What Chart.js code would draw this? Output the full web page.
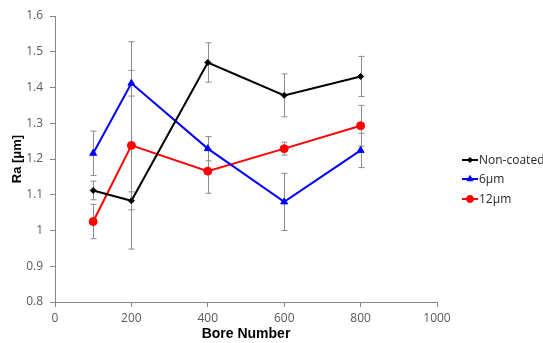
<html>
<head>
    <script src="https://cdn.jsdelivr.net/npm/chart.js@4/dist/chart.umd.min.js"></script>
    <style>
        body { margin: 0; background: #fff; }
        #wrap { width: 543px; height: 343px; }
    </style>
</head>
<body>
    <div id="wrap"><canvas id="myChart" width="543" height="343"></canvas></div>

    <script>
        // bore numbers on the x axis
        const boreNumber = [100, 200, 400, 600, 800];

        // Ra values, with +/- error
        const nonCoated = [1.112, 1.083, 1.470, 1.378, 1.431];
        const nonCoatedErr = [0.026, 0.025, 0.055, 0.060, 0.056];
        const um6 = [1.216, 1.412, 1.229, 1.080, 1.224];
        const um6Err = [0.062, 0.036, 0.034, 0.080, 0.048];
        const um12 = [1.025, 1.238, 1.166, 1.229, 1.293];
        const um12Err = [0.048, 0.290, 0.062, 0.018, 0.057];

        const seriesNames = ['Non-coated', '6\u00b5m', '12\u00b5m'];

        function pts(ys) {
            return boreNumber.map((x, i) => ({ x: x, y: ys[i] }));
        }

        const axisColor = '#868686';
        const tickColor = '#595959';

        // draws the grey error bars from the scales
        const errorBars = {
            id: 'errorBars',
            beforeDatasetsDraw(chart) {
                const ctx = chart.ctx;
                const xs = chart.scales.x, ys = chart.scales.y;
                ctx.save();
                ctx.strokeStyle = '#8c8c8c';
                ctx.lineWidth = 1;
                chart.data.datasets.forEach(ds => {
                    ds.data.forEach((p, i) => {
                        const e = ds.errors[i];
                        const px = Math.round(xs.getPixelForValue(p.x)) + 0.5;
                        const top = ys.getPixelForValue(p.y + e);
                        const bot = ys.getPixelForValue(p.y - e);
                        ctx.beginPath();
                        ctx.moveTo(px, top); ctx.lineTo(px, bot);
                        ctx.moveTo(px - 3, top); ctx.lineTo(px + 3, top);
                        ctx.moveTo(px - 3, bot); ctx.lineTo(px + 3, bot);
                        ctx.stroke();
                    });
                });
                ctx.restore();
            }
        };

        // legend on the right, line with marker like the original
        const sideLegend = {
            id: 'sideLegend',
            afterDraw(chart) {
                const ctx = chart.ctx;
                const rows = [160, 179, 199];
                ctx.save();
                chart.data.datasets.forEach((ds, i) => {
                    const y = rows[i];
                    ctx.strokeStyle = ds.borderColor;
                    ctx.fillStyle = ds.borderColor;
                    ctx.lineWidth = 2;
                    ctx.beginPath();
                    ctx.moveTo(462, y); ctx.lineTo(478, y);
                    ctx.stroke();
                    ctx.lineWidth = 1;
                    Chart.helpers.drawPoint(ctx, {
                        pointStyle: ds.pointStyle,
                        radius: ds.pointRadius - 0.5,
                        borderWidth: 1
                    }, 470, y);
                    ctx.fillStyle = '#262626';
                    ctx.font = '12px "Open Sans"';
                    ctx.textBaseline = 'middle';
                    ctx.textAlign = 'left';
                    ctx.fillText(seriesNames[i], 479, y + 1);
                });
                ctx.restore();
            }
        };

        function makeSet(i, ys, errs, color, style, r) {
            return {
                label: seriesNames[i],
                data: pts(ys),
                errors: errs,
                borderColor: color,
                backgroundColor: color,
                borderWidth: 2,
                pointStyle: style,
                pointRadius: r,
                pointBorderWidth: 1,
                pointBackgroundColor: color,
                pointBorderColor: color,
                tension: 0
            };
        }

        const data = {
            datasets: [
                makeSet(0, nonCoated, nonCoatedErr, '#000000', 'rectRot', 3),
                makeSet(1, um6, um6Err, '#0000ff', 'triangle', 4),
                makeSet(2, um12, um12Err, '#ff0000', 'circle', 4)
            ]
        };

        const config = {
            type: 'line',
            data: data,
            plugins: [errorBars, sideLegend],
            options: {
                responsive: false,
                animation: false,
                events: [],
                layout: { padding: { left: 0, right: 106, top: 16, bottom: 0 } },
                plugins: {
                    legend: { display: false },
                    tooltip: { enabled: false }
                },
                scales: {
                    x: {
                        type: 'linear',
                        min: 0,
                        max: 1000,
                        afterFit: s => { s.height = 41; },
                        border: { color: axisColor, width: 1 },
                        grid: { drawOnChartArea: false, color: axisColor, tickLength: 5 },
                        ticks: {
                            stepSize: 200,
                            padding: 4,
                            color: tickColor,
                            font: { family: 'Open Sans', size: 12 },
                            maxRotation: 0,
                            callback: v => String(v)
                        },
                        title: {
                            display: true,
                            text: 'Bore Number',
                            color: '#000',
                            padding: { top: 0, bottom: 0 },
                            font: { family: 'Liberation Sans', size: 14, weight: 'bold' }
                        }
                    },
                    y: {
                        min: 0.8,
                        max: 1.6,
                        afterFit: s => { s.width = 55; },
                        border: { color: axisColor, width: 1 },
                        grid: { drawOnChartArea: false, color: axisColor, tickLength: 5 },
                        ticks: {
                            stepSize: 0.1,
                            padding: 7,
                            color: tickColor,
                            font: { family: 'Open Sans', size: 12 },
                            callback: v => String(Number(v.toFixed(1)))
                        },
                        title: {
                            display: true,
                            text: 'Ra [\u03bcm]',
                            color: '#000',
                            padding: { top: 10, bottom: 0 },
                            font: { family: 'Liberation Sans', size: 13, weight: 'bold' }
                        }
                    }
                }
            }
        };

        var chart = new Chart(document.getElementById('myChart'), config);
    </script>
</body>
</html>
